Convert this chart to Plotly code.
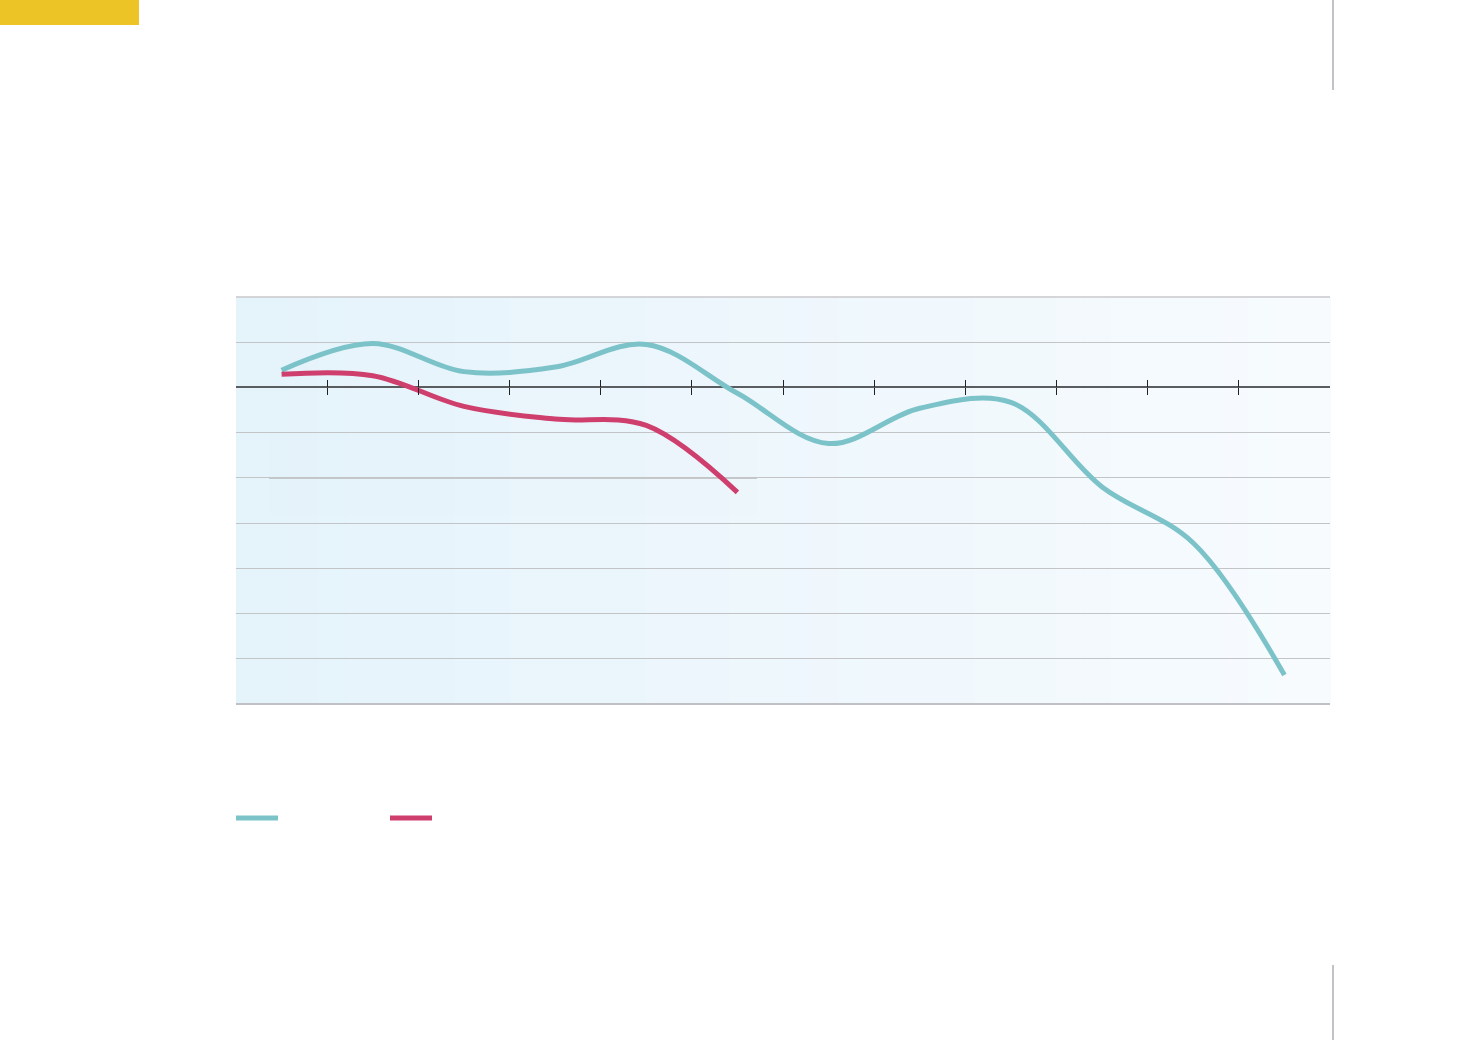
import plotly.graph_objects as go

# ---- data (no visible labels in the reference) ----
categories = list(range(12))
series_a = [0.38, 0.97, 0.35, 0.45, 0.95, -0.13, -1.24, -0.46, -0.33, -2.2, -3.44, -6.36]
series_b = [0.29, 0.26, -0.42, -0.70, -0.84, -2.32]
tick_positions = [0.5 + i for i in range(11)]

TEAL = "#7cc3c9"
RED = "#cf3f6e"

fig = go.Figure()

fig.add_trace(go.Scatter(
    x=categories, y=series_a, mode="lines",
    line=dict(color=TEAL, width=5, shape="spline", smoothing=1.0),
    showlegend=False, hoverinfo="skip",
))
fig.add_trace(go.Scatter(
    x=categories[:len(series_b)], y=series_b, mode="lines",
    line=dict(color=RED, width=5, shape="spline", smoothing=1.0),
    showlegend=False, hoverinfo="skip", xaxis="x2",
))

# ---- background gradient (stripes in paper coords) ----
def lerp(c1, c2, t):
    return "rgb(%d,%d,%d)" % tuple(round(a + (b - a) * t) for a, b in zip(c1, c2))

left_col = (229, 243, 251)
right_col = (247, 251, 254)
n = 40
shapes = []
for i in range(n):
    shapes.append(dict(
        type="rect", xref="paper", yref="paper",
        x0=i / n, x1=(i + 1) / n + 0.001, y0=0, y1=1,
        fillcolor=lerp(left_col, right_col, i / (n - 1)),
        line=dict(width=0), layer="below",
    ))

# faint darker patch & grid segment seen in the reference
shapes.append(dict(type="rect", xref="paper", yref="paper",
                   x0=(269 - 236) / 1094, x1=(757 - 236) / 1094,
                   y0=(704 - 515) / 407, y1=(704 - 433) / 407,
                   fillcolor="rgba(120,140,160,0.008)", line=dict(width=0), layer="below"))
shapes.append(dict(type="line", xref="paper", yref="paper",
                   x0=(269 - 236) / 1094, x1=(757 - 236) / 1094,
                   y0=(704 - 478) / 407, y1=(704 - 478) / 407,
                   line=dict(color="#b8babd", width=1.5), layer="below"))

# top and bottom frame lines
shapes.append(dict(type="line", xref="paper", yref="paper", x0=0, x1=1, y0=1, y1=1,
                   line=dict(color="#c8c9cb", width=1.5)))
shapes.append(dict(type="line", xref="paper", yref="paper", x0=0, x1=1, y0=0, y1=0,
                   line=dict(color="#c0c1c4", width=2)))

# yellow tab top-left
shapes.append(dict(type="rect", xref="paper", yref="paper",
                   x0=(0 - 236) / 1094, x1=(139 - 236) / 1094,
                   y0=(704 - 25) / 407, y1=(704 - 0) / 407,
                   fillcolor="#ecc425", line=dict(width=0)))
# vertical gray rules on the right
for (ya, yb) in [(0, 90), (965, 1040)]:
    shapes.append(dict(type="line", xref="paper", yref="paper",
                       x0=(1333 - 236) / 1094, x1=(1333 - 236) / 1094,
                       y0=(704 - ya) / 407, y1=(704 - yb) / 407,
                       line=dict(color="#c2c3c9", width=2)))
# legend swatches (no text in reference)
for (xa, xb, col) in [(236, 278, TEAL), (390, 432, RED)]:
    shapes.append(dict(type="line", xref="paper", yref="paper",
                       x0=(xa - 236) / 1094, x1=(xb - 236) / 1094,
                       y0=(704 - 818) / 407, y1=(704 - 818) / 407,
                       line=dict(color=col, width=5)))

zero_pos = 7 / 9

fig.update_layout(
    width=1471, height=1040,
    margin=dict(l=236, r=141, t=297, b=336),
    paper_bgcolor="white",
    plot_bgcolor="rgba(0,0,0,0)",
    shapes=shapes,
    xaxis=dict(
        range=[-0.5, 11.5], showgrid=False, zeroline=False,
        anchor="free", position=zero_pos,
        tickmode="array", tickvals=tick_positions, ticktext=[""] * len(tick_positions),
        ticks="outside", ticklen=7, tickwidth=1, tickcolor="#222",
        showticklabels=False, showline=False,
    ),
    xaxis2=dict(
        range=[-0.5, 11.5], overlaying="x", matches="x", showgrid=False, zeroline=False,
        anchor="free", position=zero_pos,
        tickmode="array", tickvals=tick_positions, ticktext=[""] * len(tick_positions),
        ticks="inside", ticklen=7, tickwidth=1, tickcolor="#222",
        showticklabels=False, showline=False,
    ),
    yaxis=dict(
        range=[-7, 2], dtick=1, tick0=0,
        showgrid=True, gridcolor="#c3c4c6", gridwidth=1,
        zeroline=True, zerolinecolor="#5a5d60", zerolinewidth=2,
        showticklabels=False, ticks="",
    ),
)

fig.write_html(
    "out.html",
    config={"displayModeBar": False},
    post_script="document.body.style.margin='0';document.body.style.overflow='hidden';",
)
